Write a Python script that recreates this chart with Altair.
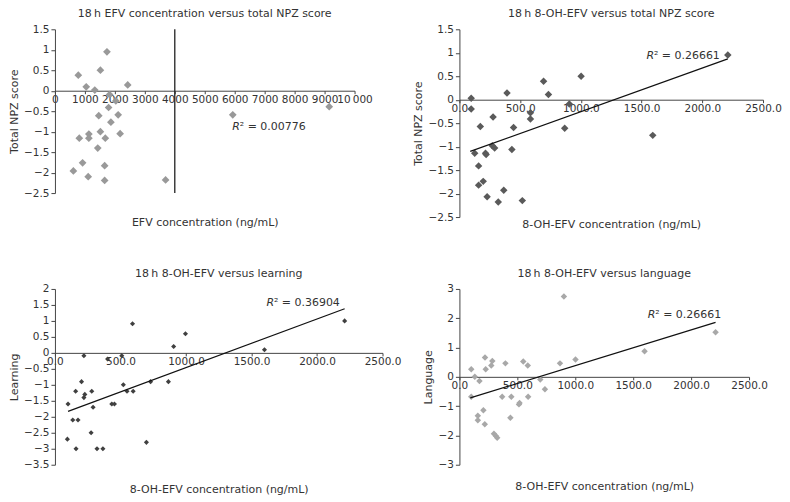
import altair as alt
import pandas as pd

FONT = "DejaVu Sans"
TXT = "#333333"
AX = "#444444"

# Panel 1: 18 h EFV concentration vs total NPZ score
efv_conc = [1736, 1517, 780, 1044, 1330, 2429, 1824, 2033, 1791, 1462, 2110, 1868, 1517, 2176,
            1132, 1132, 813, 1681, 1429, 923, 1659, 615, 1110, 1659, 3693, 5935, 9155]
efv_npz = [0.95, 0.5, 0.38, 0.095, 0.016, 0.14, -0.095, -0.25, -0.41, -0.61, -0.59, -0.77, -1.0, -1.05,
           -1.06, -1.16, -1.16, -1.16, -1.40, -1.76, -1.83, -1.96, -2.10, -2.19, -2.18, -0.59, -0.39]
efv_vline_x = [4000, 4000]
efv_vline_y = [-2.5, 1.5]

# Panel 2: 18 h 8-OH-EFV vs total NPZ score
oh_npz_conc = [2210, 1002, 693, 733, 392, 97, 97, 905, 585, 585, 277, 172, 446, 867, 1592, 271, 290,
               432, 126, 215, 220, 158, 158, 196, 228, 365, 320, 518]
oh_npz = [0.95, 0.5, 0.395, 0.11, 0.145, 0.03, -0.2, -0.09, -0.28, -0.41, -0.37, -0.57, -0.59, -0.61,
          -0.76, -0.98, -1.03, -1.06, -1.14, -1.14, -1.17, -1.41, -1.82, -1.74, -2.07, -1.93, -2.18, -2.15]
oh_npz_trend_x = [89, 2210]
oh_npz_trend_y = [-1.10, 0.87]

# Panel 3: 18 h 8-OH-EFV vs learning
oh_learn_conc = [2211, 592, 996, 906, 1599, 221, 402, 510, 203, 522, 730, 866, 158, 281, 550, 597,
                 228, 221, 100, 434, 454, 291, 136, 176, 276, 95, 161, 321, 366, 698]
learning = [1.0, 0.91, 0.60, 0.20, 0.10, -0.09, -0.19, -0.09, -0.90, -1.0, -0.90, -0.90, -1.20, -1.20,
            -1.20, -1.20, -1.30, -1.40, -1.60, -1.60, -1.60, -1.70, -2.10, -2.10, -2.50, -2.70, -3.0,
            -3.0, -3.0, -2.80]
learn_trend_x = [100, 2211]
learn_trend_y = [-1.83, 1.38]

# Panel 4: 18 h 8-OH-EFV vs language
oh_lang_conc = [902, 2211, 1598, 1002, 868, 221, 284, 275, 397, 551, 590, 102, 227, 133, 173, 698, 738,
                102, 369, 448, 593, 519, 514, 207, 159, 159, 440, 219, 298, 315, 326]
language = [2.74, 1.52, 0.87, 0.59, 0.46, 0.66, 0.54, 0.39, 0.46, 0.52, 0.39, 0.26, 0.26, 0.0, -0.14,
            -0.09, -0.42, -0.68, -0.68, -0.68, -0.68, -0.89, -0.94, -1.14, -1.33, -1.48, -1.40, -1.62,
            -1.94, -2.02, -2.08]
lang_trend_x = [94, 2211]
lang_trend_y = [-0.72, 1.86]


def frange(a, b, step):
    out = []
    v = a
    while v <= b + 1e-9:
        out.append(round(v, 4))
        v += step
    return out


def panel(x, y, color, size, xmax, xstep, ymin, ymax, ystep, xfmt, w, h, title, xtitle, ytitle,
          below, r2, r2x, r2y, tx=None, ty=None, vx=None, vy=None, label_expr=None):
    off = h * (0 - ymin) / (ymax - ymin)
    xs = alt.Scale(domain=[0, xmax], nice=False, zero=False)
    ys = alt.Scale(domain=[ymin, ymax], nice=False, zero=False)
    ax_kwargs = dict(values=frange(0, xmax, xstep), format=xfmt, offset=-off,
                     titlePadding=below + off - 24, grid=False, tickSize=3, labelPadding=1,
                     labelOverlap=False, labelFlush=False,
                     domainColor=AX, tickColor=AX, labelColor=TXT, titleColor=TXT,
                     labelFont=FONT, titleFont=FONT, labelFontSize=10.5, titleFontSize=11,
                     titleFontWeight="normal", title=xtitle)
    if label_expr:
        ax_kwargs["labelExpr"] = label_expr
    xaxis = alt.Axis(**ax_kwargs)
    yaxis = alt.Axis(values=frange(ymin, ymax, ystep), format="~g", grid=False, tickSize=4,
                     labelPadding=2, labelOverlap=False, labelFlush=False,
                     domainColor=AX, tickColor=AX, labelColor=TXT, titleColor=TXT,
                     labelFont=FONT, titleFont=FONT, labelFontSize=10.5, titleFontSize=11,
                     titleFontWeight="normal", title=ytitle, titlePadding=4)
    X = alt.X("x:Q", scale=xs, axis=xaxis)
    Y = alt.Y("y:Q", scale=ys, axis=yaxis)

    layers = []
    if vx is not None:
        vdf = pd.DataFrame({"x": vx, "y": vy})
        layers.append(alt.Chart(vdf).mark_line(color="#222222", strokeWidth=1.3).encode(x=X, y=Y))
    pts = pd.DataFrame({"x": x, "y": y})
    layers.append(alt.Chart(pts).mark_point(shape="diamond", filled=True, opacity=1, color=color,
                                            size=size).encode(x=X, y=Y))
    if tx is not None:
        tdf = pd.DataFrame({"x": tx, "y": ty})
        layers.append(alt.Chart(tdf).mark_line(color="#111111", strokeWidth=1.2).encode(x=X, y=Y))
    lab = pd.DataFrame({"x": [r2x], "y": [r2y]})
    layers.append(alt.Chart(lab).mark_text(text="R", font=FONT, fontSize=11, fontStyle="italic",
                                           align="left", baseline="middle", color=TXT)
                  .encode(x=X, y=Y))
    layers.append(alt.Chart(lab).mark_text(text="\u00b2 = " + r2, font=FONT, fontSize=11,
                                           align="left", baseline="middle", dx=7.5, color=TXT)
                  .encode(x=X, y=Y))
    return alt.layer(*layers).properties(
        width=w, height=h,
        title=alt.TitleParams(title, font=FONT, fontSize=11, fontWeight="normal", color=TXT,
                              anchor="middle", frame="group", offset=5))


p1 = panel(efv_conc, efv_npz, "#999999", 60, 10000, 1000, -2.5, 1.5, 0.5, "d", 300, 164,
           "18\u2009h EFV concentration versus total NPZ score", "EFV concentration (ng/mL)",
           "Total NPZ score", 33, "0.00776", 5920, -0.89, vx=efv_vline_x, vy=efv_vline_y,
           label_expr="datum.value == 10000 ? '10\u2009000' : datum.label")
p2 = panel(oh_npz_conc, oh_npz, "#5a5a5a", 56, 2500, 500, -2.5, 1.5, 0.5, ".1f", 304, 188,
           "18\u2009h 8-OH-EFV versus total NPZ score", "8-OH-EFV concentration (ng/mL)",
           "Total NPZ score", 11, "0.26661", 1540, 0.94, tx=oh_npz_trend_x, ty=oh_npz_trend_y)
p3 = panel(oh_learn_conc, learning, "#404040", 26, 2500, 500, -3.5, 2, 0.5, ".1f", 328, 176,
           "18\u2009h 8-OH-EFV versus learning", "8-OH-EFV concentration (ng/mL)",
           "Learning", 28, "0.36904", 1614, 1.57, tx=learn_trend_x, ty=learn_trend_y)
p4 = panel(oh_lang_conc, language, "#a8a8a8", 42, 2500, 500, -3, 3, 1, ".1f", 290, 176,
           "18\u2009h 8-OH-EFV versus language", "8-OH-EFV concentration (ng/mL)",
           "Language", 25, "0.26661", 1626, 2.11, tx=lang_trend_x, ty=lang_trend_y)

chart = alt.concat(p1, p2, p3, p4, columns=2, spacing={"row": 72, "column": 77},
                   bounds="flush").properties(padding=0).configure_view(stroke=None)

chart.save("out.html", embed_options={"renderer": "svg", "actions": False})
